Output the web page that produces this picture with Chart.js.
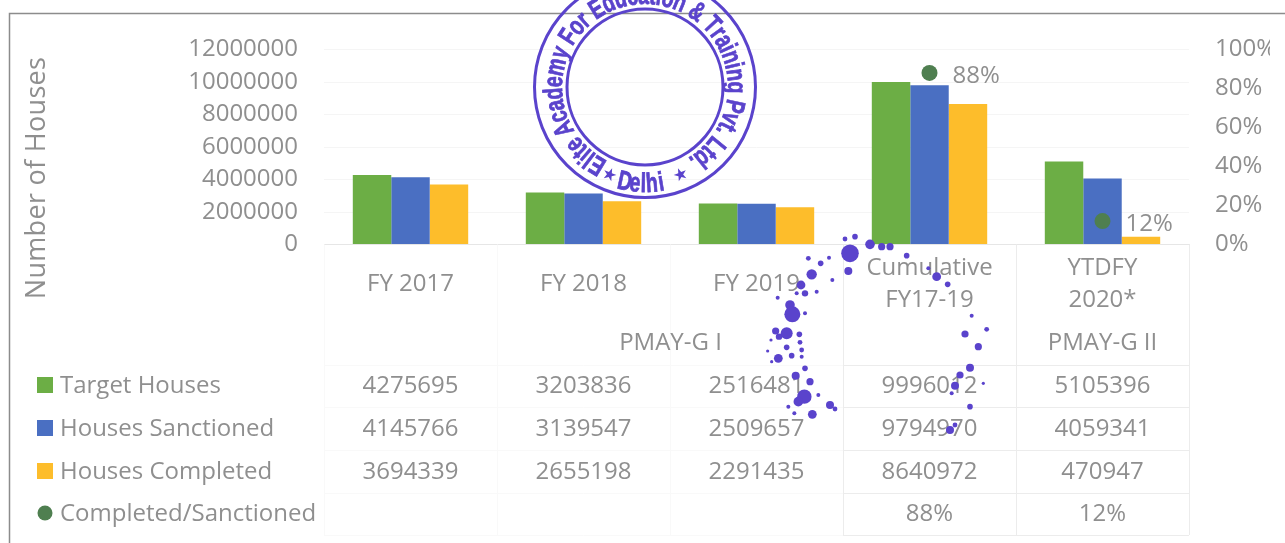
<!DOCTYPE html>
<html><head><meta charset="utf-8">
<style>html,body{margin:0;padding:0;background:#fff;overflow:hidden}canvas{display:block;filter:blur(.4px)}</style>
<script src="https://cdn.jsdelivr.net/npm/chart.js@4"></script>
</head><body><canvas id="c" width="1285" height="543"></canvas>
<script>
const categories=[["FY 2017"],["FY 2018"],["FY 2019"],["Cumulative","FY17-19"],["YTDFY","2020*"]];
const targetHouses=[4275695,3203836,2516481,9996012,5105396];
const housesSanctioned=[4145766,3139547,2509657,9794970,4059341];
const housesCompleted=[3694339,2655198,2291435,8640972,470947];
const completedRatio=[null,null,null,0.88,0.12];
const leftTicks=[0,2000000,4000000,6000000,8000000,10000000,12000000];
const rightTicks=[0,0.2,0.4,0.6,0.8,1];
const FONT='"Open Sans"', GREY='#8f8f8f', PURPLE='#5a43cc';
const COL={g:'#6cae45',b:'#4a6fc2',y:'#fdbd2b',d:'#4f7f50'};
const specks=[[285,85,20],[300,35,5],[270,42,4],[345,58,10],[380,65,7],[405,65,7],[280,138,8],[232,165,3],[170,148,11],[138,180,9],[160,100,4],[197,115,5],[222,98,3],[150,205,6],[185,200,3],[125,205,3],[105,240,10],[112,268,18],[150,265,3],[68,218,3],[62,318,7],[95,325,13],[72,335,6],[133,328,5],[135,352,4],[95,367,5],[70,400,9],[110,392,5],[140,375,4],[140,395,3],[150,430,5],[122,452,8],[165,470,7],[148,515,16],[130,530,10],[190,510,3],[225,540,8],[240,552,4],[172,568,9],[100,545,3],[118,565,3],[48,345,2],[38,378,2],[50,410,2],[455,92,5],[545,155,9],[578,178,5],[520,130,3],[650,272,3],[695,313,4],[630,327,7],[670,365,7],[645,428,8],[615,450,7],[600,482,8],[590,505,3],[645,545,5],[585,615,8],[685,475,2],[600,600,4]];

const tablePlugin={id:'tbl',
 beforeDatasetsDraw(ch){
  const c=ch.ctx,a=ch.chartArea;c.save();
  c.strokeStyle='#8c8c8c';c.lineWidth=1.5;c.beginPath();c.moveTo(9.5,543);c.lineTo(9.5,13.5);c.lineTo(1285,13.5);c.stroke();
  const rows=[365,407,450,493,535],step=(a.right-a.left)/5;
  c.lineWidth=1;c.strokeStyle='#f9f9f9';
  c.beginPath();
  for(let i=0;i<3;i++){c.moveTo(a.left+i*step+.5,a.bottom);c.lineTo(a.left+i*step+.5,535)}
  rows.forEach(r=>{c.moveTo(a.left,r+.5);c.lineTo(a.left+3*step,r+.5)});c.stroke();
  c.strokeStyle='#ececec';c.beginPath();
  for(let i=3;i<=5;i++){c.moveTo(a.left+i*step+.5,a.bottom);c.lineTo(a.left+i*step+.5,535)}
  rows.forEach(r=>{c.moveTo(a.left+3*step,r+.5);c.lineTo(a.right,r+.5)});c.stroke();
  c.restore();
 },
 afterDraw(ch){
  const c=ch.ctx,x=ch.scales.x;c.save();
  c.fillStyle=GREY;c.textBaseline='middle';
  c.save();c.translate(37,178);c.rotate(-Math.PI/2);c.textAlign='center';c.font='27px '+FONT;c.letterSpacing='0.3px';c.fillText('Number of Houses',0,0);c.restore();
  c.font='24px '+FONT;
  c.textAlign='center';
  c.fillText('PMAY-G I',x.getPixelForValue(1)+87,343);
  c.fillText('PMAY-G II',x.getPixelForValue(4),343);
  const rows=[['Target Houses',targetHouses,COL.g,386],['Houses Sanctioned',housesSanctioned,COL.b,429],['Houses Completed',housesCompleted,COL.y,472]];
  rows.forEach(([n,arr,col,y])=>{
   c.fillStyle=col;c.fillRect(37,y-9,16,16);
   c.fillStyle=GREY;c.textAlign='left';c.fillText(n,60,y);
   c.textAlign='center';arr.forEach((v,i)=>c.fillText(String(v),x.getPixelForValue(i),y));
  });
  c.fillStyle=COL.d;c.beginPath();c.arc(45,513,7.5,0,7);c.fill();
  c.fillStyle=GREY;c.textAlign='left';c.fillText('Completed/Sanctioned',60,514);
  c.textAlign='center';
  completedRatio.forEach((v,i)=>{if(v!=null)c.fillText(Math.round(v*100)+'%',x.getPixelForValue(i),514)});
  c.textAlign='left';
  ch.getDatasetMeta(3).data.forEach((p,i)=>{if(completedRatio[i]!=null)c.fillText(Math.round(completedRatio[i]*100)+'%',p.x+23,p.y+3)});
  c.fillStyle='#fff';c.fillRect(1270,30,15,36);
  drawStamp(c);
  c.fillStyle=PURPLE;
  specks.forEach(([sx,sy,r])=>{c.beginPath();c.arc(755+sx/3,225+sy/3,(r+2)*1.2/3,0,7);c.fill()});
  c.restore();
 }};
const SX=0.72;
function glyph(c,t){c.fillText(t,0,0);c.strokeText(t,0,0)}
function arcText(c,txt,cx,cy,r,a0,a1,font){
 c.font=font;
 const chars=[...txt],ws=chars.map(t=>c.measureText(t).width),tot=ws.reduce((p,q)=>p+q,0);
 const k=(a1-a0)/tot;let ang=a0;
 chars.forEach((t,i)=>{
  const m=ang+ws[i]*k/2;
  c.save();c.translate(cx+r*Math.sin(m),cy-r*Math.cos(m));
  c.rotate(m);c.scale(SX,1);
  glyph(c,t);c.restore();
  ang+=ws[i]*k;
 });
}
function drawStamp(c){
 const cx=645,cy=87,d=Math.PI/180;
 c.save();c.strokeStyle=PURPLE;c.fillStyle=PURPLE;c.lineWidth=3;
 c.beginPath();c.arc(cx,cy,110.5,0,7);c.stroke();
 c.beginPath();c.arc(cx,cy,78,0,7);c.stroke();
 c.lineWidth=0.8;
 c.textAlign='center';c.textBaseline='alphabetic';
 const f='bold 27px "Liberation Sans"';
 arcText(c,'Elite Academy For Education & Training Pvt. Ltd.',cx,cy,83,-153*d,149*d,f);
 c.font=f;
 [['D',192],['e',186],['l',181],['h',176],['i',170.5]].forEach(([t,a])=>{const m=a*d;c.save();c.translate(cx+105*Math.sin(m),cy-105*Math.cos(m));c.rotate(m-Math.PI);c.scale(SX,1);glyph(c,t);c.restore()});
 c.font='bold 17px "DejaVu Sans"';
 [['★',202],['★',158]].forEach(([t,a])=>{const m=a*d;c.save();c.translate(cx+100*Math.sin(m),cy-100*Math.cos(m));c.rotate(m-Math.PI);c.fillText(t,0,0);c.restore()});
 c.restore();
}
new Chart(document.getElementById('c'),{
 data:{labels:categories,datasets:[
  {type:'bar',label:'Target Houses',data:targetHouses,backgroundColor:COL.g,yAxisID:'y',order:2},
  {type:'bar',label:'Houses Sanctioned',data:housesSanctioned,backgroundColor:COL.b,yAxisID:'y',order:2},
  {type:'bar',label:'Houses Completed',data:housesCompleted,backgroundColor:COL.y,yAxisID:'y',order:2},
  {type:'line',label:'Completed/Sanctioned',data:completedRatio,showLine:false,yAxisID:'y1',order:1,
   pointRadius:8,pointBackgroundColor:COL.d,pointBorderWidth:0}
 ]},
 options:{responsive:false,animation:false,
  datasets:{bar:{categoryPercentage:0.667,barPercentage:1}},
  layout:{padding:{top:49.5,left:0,right:0,bottom:0}},
  plugins:{legend:{display:false},tooltip:{enabled:false}},
  scales:{
   x:{grid:{display:false},border:{color:'#e6e6e6'},
    afterFit(s){s.height=298.5},
    ticks:{font:{family:FONT,size:24,lineHeight:'32px'},color:GREY,maxRotation:0,autoSkip:false,padding:16,crossAlign:'center'}},
   y:{position:'left',min:0,max:12000000,grid:{color:'#f5f5f5',drawTicks:false},border:{display:false},
    afterBuildTicks(s){s.ticks=leftTicks.map(v=>({value:v}))},
    afterFit(s){s.width=324},
    ticks:{font:{family:FONT,size:24},color:GREY,padding:26,callback:v=>String(v)}},
   y1:{position:'right',min:0,max:1,grid:{display:false,drawTicks:false},border:{display:false},
    afterBuildTicks(s){s.ticks=rightTicks.map(v=>({value:v}))},
    afterFit(s){s.width=96},
    ticks:{font:{family:FONT,size:24},color:GREY,padding:26,callback:v=>Math.round(v*100)+'%'}}
  }},
 plugins:[tablePlugin]
});
</script></body></html>
